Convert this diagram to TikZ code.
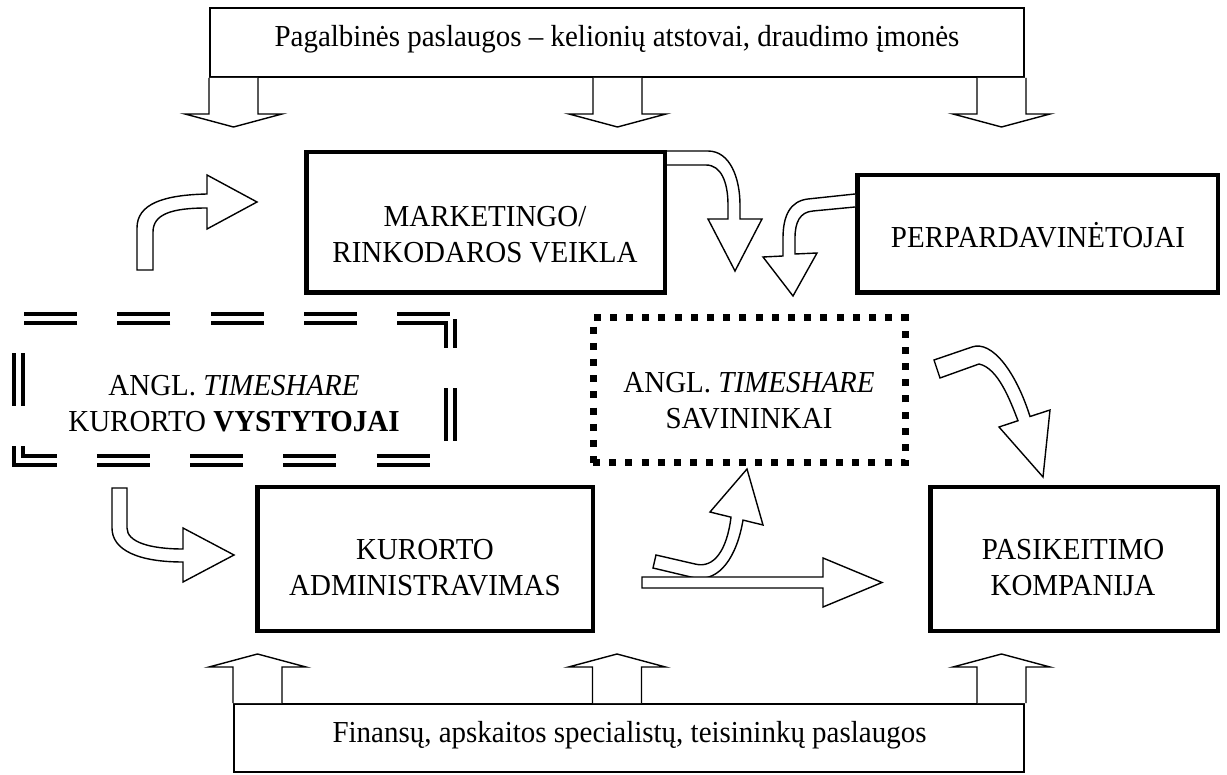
\documentclass[tikz,border=0pt]{standalone}
\usepackage{fontspec}
\setmainfont{Liberation Serif}[FakeStretch=0.95]
\usetikzlibrary{calc}

\begin{document}
\begin{tikzpicture}[
      x=1pt, y=-1pt,
      bigbox/.style={draw, line width=4.5pt, inner sep=0},
      svcbox/.style={draw, line width=1.6pt, inner sep=0},
      devline/.style={line width=4pt, double=white, double distance=5pt, dash pattern=on 53pt off 40.25pt},
      dotbox/.style={draw, line width=7pt, dash pattern=on 7pt off 9.2pt, inner sep=0},
      blk/.style={draw, fill=white, line width=1.4pt, line join=miter},
      txt/.style={align=center, inner sep=0, font={\fontsize{30.5pt}{36pt}\selectfont}}
  ]
  \useasboundingbox (0,0) rectangle (1227,775);

  \node[svcbox, minimum width=814.4pt, minimum height=69.4pt] (sup) at (617,42.5) {};
  \node[txt, anchor=base] (suptext) at (617,47) {Pagalbinės paslaugos – kelionių atstovai, draudimo įmonės};
  \node[bigbox, minimum width=358.5pt, minimum height=140.5pt] (mkt) at (485.5,222.5) {};
  \node[txt] (mkttext) at (485,235) {MARKETINGO/\\RINKODAROS VEIKLA};
  \node[bigbox, minimum width=360.5pt, minimum height=117.5pt] (perp) at (1037.5,234) {};
  \node[txt, anchor=base] (perptext) at (1038,248) {PERPARDAVINĖTOJAI};
  \node[inner sep=0, outer sep=0, minimum width=432pt, minimum height=142pt] (dev) at (234,390) {};
  \node[txt] (devtext) at (234,404) {ANGL. \textit{TIMESHARE}\\KURORTO \textbf{VYSTYTOJAI}};
  \node[dotbox, minimum width=312pt, minimum height=145pt] (own) at (749,390.5) {};
  \node[txt] (owntext) at (749,401) {ANGL. \textit{TIMESHARE}\\SAVININKAI};
  \node[bigbox, minimum width=335.5pt, minimum height=143.5pt] (adm) at (425,559) {};
  \node[txt] (admtext) at (425,567.5) {KURORTO\\ADMINISTRAVIMAS};
  \node[bigbox, minimum width=287.5pt, minimum height=143.5pt] (exch) at (1074,559) {};
  \node[txt] (exchtext) at (1073,567.5) {PASIKEITIMO\\KOMPANIJA};
  \node[svcbox, minimum width=790.4pt, minimum height=68.4pt] (inf) at (629,738) {};
  \node[txt, anchor=base] (inftext) at (629.5,742) {Finansų, apskaitos specialistų, teisininkų paslaugos};

  \draw[devline] (dev.north east) -- (dev.north west) -- (dev.south west) -- (dev.south east) -- (dev.north east);

  \foreach \cx in {233.5,617.5,1001.5} {
    \draw[blk] (\cx-24.5,0 |- sup.south) -- ++(0,36) -- ++(-24,0) -- ++(48.5,13) -- ++(48.5,-13) -- ++(-24,0) -- ++(0,-36);
  }
  \foreach \cx in {257.5,617,1001.5} {
    \draw[blk] (\cx-24.5,0 |- inf.north) -- ++(0,-36) -- ++(-24,0) -- ++(48.5,-13) -- ++(48.5,13) -- ++(-24,0) -- ++(0,36);
  }

  \draw[blk] (153,270) -- (137,270) -- (137,228) .. controls (137,204) and (163,195) .. (207,194) -- (207,175) -- (257,202) -- (207,229) -- (207,208) .. controls (172,208) and (153,214) .. (153,232) -- cycle;
  \draw[blk] (mkt.east |- 0,151) -- (708,151) .. controls (730,151) and (740,178) .. (740,205) -- (740,219) -- (762,219) -- (735,271) -- (708,219) -- (728,219) -- (728,205) .. controls (728,182) and (721,165) .. (706,165) -- (mkt.east |- 0,165);
  \draw[blk] (perp.west |- 0,194) -- (808,199) .. controls (790,201) and (783,216) .. (783,238) -- (783,256) -- (763,257) -- (793,296) -- (817,253) -- (795,254) -- (795,238) .. controls (795,222) and (800,212) .. (813,211) -- (perp.west |- 0,207);
  \draw[blk] (940,378) -- (934,360) -- (972,347) .. controls (992,340) and (1016,372) .. (1030,416.5) -- (1050,410) -- (1043,477) -- (999,427) -- (1018,420.7) .. controls (1010,400) and (998,368) .. (979,364) -- cycle;
  \draw[blk] (112,488) -- (127,488) -- (127,528) .. controls (127,542) and (150,549) .. (183,549) -- (183,528) -- (234,555) -- (183,582) -- (183,562) .. controls (138,562) and (112,550) .. (112,528) -- cycle;
  \draw[blk] (653,568) -- (656,555) -- (695,564) .. controls (714,569) and (727,550) .. (731,517.2) -- (710,512) -- (747,469) -- (763,525) -- (743,520.1) .. controls (737,556) and (720,582) .. (695,578) -- cycle;
  \draw[blk] (642,577) -- (823,577) -- (823,558) -- (882,582.5) -- (823,607) -- (823,588) -- (642,588) -- cycle;
\end{tikzpicture}
\end{document}
